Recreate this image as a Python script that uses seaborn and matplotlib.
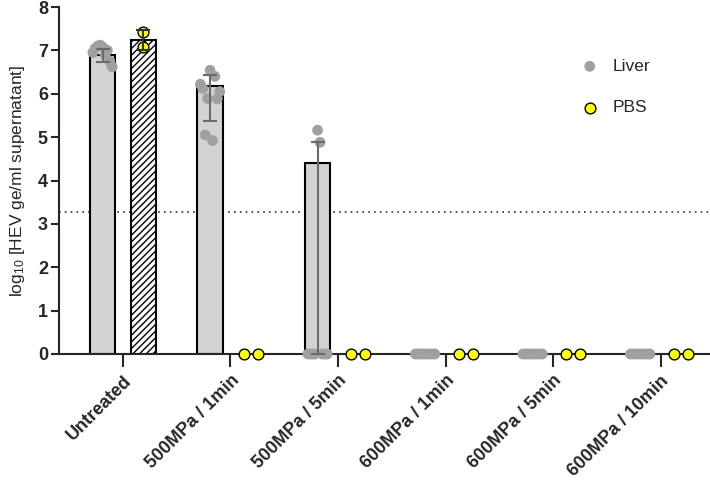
import numpy as np
import pandas as pd
import matplotlib
matplotlib.use("Agg")
import matplotlib.pyplot as plt
import seaborn as sns

sns.set_style("ticks")
plt.rcParams["font.family"] = ["Liberation Sans", "DejaVu Sans"]
plt.rcParams["mathtext.default"] = "regular"

# data
groups = ["Untreated", "500MPa / 1min", "500MPa / 5min",
          "600MPa / 1min", "600MPa / 5min", "600MPa / 10min"]
liver_mean = [6.90, 6.17, 4.40, 0.0, 0.0, 0.0]
pbs_mean = [7.25, 0.0, 0.0, 0.0, 0.0, 0.0]
liver_err_lo = [6.74, 5.38, 0.0, 0.0, 0.0, 0.0]
liver_err_hi = [7.03, 6.44, 4.88, 0.0, 0.0, 0.0]
pbs_err_lo = [7.02, 0.0, 0.0, 0.0, 0.0, 0.0]
pbs_err_hi = [7.46, 0.0, 0.0, 0.0, 0.0, 0.0]
liver_points = [
    [6.95, 7.05, 7.10, 7.12, 7.08, 6.90, 7.00, 6.75, 6.62],
    [6.22, 6.12, 5.05, 5.89, 6.54, 4.92, 6.40, 5.88, 6.05],
    [0, 0, 0, 0, 5.16, 4.88, 0, 0, 0],
    [0, 0, 0, 0, 0, 0, 0, 0, 0],
    [0, 0, 0, 0, 0, 0, 0, 0, 0],
    [0, 0, 0, 0, 0, 0, 0, 0, 0],
]
pbs_points = [[7.42, 7.08], [0, 0], [0, 0], [0, 0], [0, 0], [0, 0]]
detection_limit = 3.28

LIVER_COLOR = "#d3d3d3"
DOT_GREY = "#a0a0a0"
DOT_YELLOW = "#ffff00"
OFFSET = 0.19


def spread_points(points, hue_shift, width, stack_distinct):
    """x/y arrays for the dots of one sample type"""
    xs, ys = [], []
    for i, vals in enumerate(points):
        n = len(vals)
        if stack_distinct and len(set(vals)) > 1:
            offs = np.zeros(n)
        else:
            offs = np.linspace(-width, width, n)
        xs.extend(i + hue_shift + offs)
        ys.extend(vals)
    return pd.DataFrame({"x": xs, "y": ys})


if __name__ == "__main__":
    bars = pd.DataFrame({
        "group": groups * 2,
        "sample": ["Liver"] * len(groups) + ["PBS"] * len(groups),
        "value": liver_mean + pbs_mean,
    })

    fig = plt.figure(figsize=(7.1, 4.8), dpi=100)
    ax = fig.add_axes([59 / 710, 1 - 354 / 480, 651 / 710, 347 / 480])

    sns.barplot(data=bars, x="group", y="value", hue="sample", order=groups,
                palette={"Liver": LIVER_COLOR, "PBS": "white"},
                width=0.76, gap=0.37, edgecolor="black", linewidth=1.5,
                errorbar=None, legend=False, ax=ax)
    for patch in ax.containers[1]:
        patch.set_hatch("/////")

    # dotted detection limit
    ax.axhline(detection_limit, color="#333333", linestyle=(0, (1, 2.5)), lw=1.2, zorder=0)

    # dots
    liver_df = spread_points(liver_points, -OFFSET, 0.09, False)
    pbs_df = spread_points(pbs_points, OFFSET, 0.065, True)
    sns.scatterplot(data=liver_df, x="x", y="y", color=DOT_GREY, s=60,
                    edgecolor="none", linewidth=0, clip_on=False, zorder=3,
                    label="Liver", ax=ax)
    sns.scatterplot(data=pbs_df, x="x", y="y", color=DOT_YELLOW, s=60,
                    edgecolor="black", linewidth=1.0, clip_on=False, zorder=4,
                    label="PBS", ax=ax)

    # error bars
    for i in range(len(groups)):
        if liver_err_hi[i] > liver_err_lo[i]:
            m = liver_mean[i]
            ax.errorbar(i - OFFSET, m, yerr=[[m - liver_err_lo[i]], [liver_err_hi[i] - m]],
                        fmt="none", ecolor="#6b6b6b", elinewidth=1.5, capsize=5,
                        capthick=1.5, zorder=5, clip_on=False)
        if pbs_err_hi[i] > pbs_err_lo[i]:
            m = pbs_mean[i]
            ax.errorbar(i + OFFSET, m, yerr=[[m - pbs_err_lo[i]], [pbs_err_hi[i] - m]],
                        fmt="none", ecolor="#333333", elinewidth=1.5, capsize=5,
                        capthick=1.5, zorder=5, clip_on=False)

    ax.set_xlim(-0.595, 5.46)
    ax.set_ylim(0, 8)
    ax.set_yticks(range(9))
    ax.set_yticklabels([str(v) for v in range(9)], fontweight="bold", fontsize=13)
    ax.set_xticks(range(len(groups)))
    ax.set_xticklabels(groups, rotation=45, ha="right", rotation_mode="anchor",
                       fontweight="bold", fontsize=13)
    ax.set_xlabel("")
    ax.set_ylabel("log$_{10}$ [HEV ge/ml supernatant]", fontsize=12.5, labelpad=8)

    sns.despine(ax=ax)
    for side in ["left", "bottom"]:
        ax.spines[side].set_linewidth(1.5)
    ax.tick_params(axis="y", width=1.5, length=6, pad=2)
    ax.tick_params(axis="x", width=1.5, length=9, pad=4)

    ax.legend(loc="upper left", bbox_to_anchor=(0.778, 0.896), frameon=False,
              fontsize=12.5, handletextpad=0.8, labelspacing=1.5,
              handlelength=1.0, markerscale=1.0)

    fig.savefig("out.png", dpi=100)
